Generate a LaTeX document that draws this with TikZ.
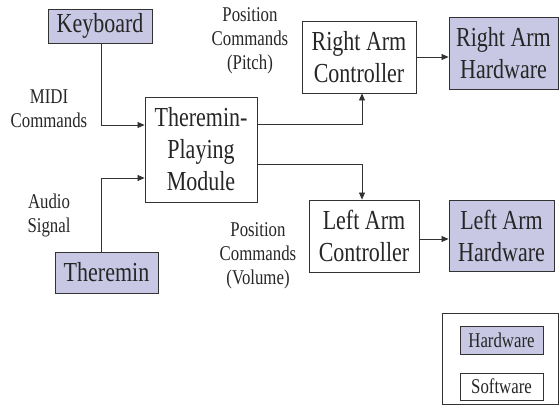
\documentclass[tikz,border=0pt]{standalone}
\usepackage{fontspec}
\setmainfont{Liberation Serif}[FakeStretch=0.8]
\usetikzlibrary{arrows.meta}
\definecolor{hw}{RGB}{200,200,228}
\definecolor{ln}{RGB}{50,50,50}
\begin{document}
\begin{tikzpicture}[x=1pt,y=-1pt,
  box/.style={draw=ln,line width=0.9pt,fill=white,inner sep=0pt,align=center,
    font=\fontsize{27.5}{32}\selectfont,text=black!85},
  hwbox/.style={box,fill=hw},
  lab/.style={align=center,font=\fontsize{21}{24}\selectfont,text=black!85},
  arr/.style={draw=ln,line width=0.8pt,-{Triangle[length=7pt,width=6pt]}}]
\useasboundingbox (0,0) rectangle (559,414);
% boxes
\node[hwbox,minimum width=104pt,minimum height=34pt] (kb) at (100,26) {Keyboard};
\node[box,minimum width=112pt,minimum height=105pt] (mod) at (201,149.5) {Theremin-\\Playing\\Module};
\node[hwbox,minimum width=103pt,minimum height=41pt] (th) at (106.5,272.5) {Theremin};
\node[box,minimum width=114pt,minimum height=72pt] (rac) at (359,57) {Right Arm\\Controller};
\node[hwbox,minimum width=109pt,minimum height=72pt] (rah) at (503.5,53) {Right Arm\\Hardware};
\node[box,minimum width=110pt,minimum height=72pt] (lac) at (364,236) {Left Arm\\Controller};
\node[hwbox,minimum width=105pt,minimum height=71pt] (lah) at (501.5,235.5) {Left Arm\\Hardware};
% legend
\node[draw=ln,line width=0.9pt,minimum width=116pt,minimum height=91pt,inner sep=0pt] (leg) at (500,358.5) {};
\node[hwbox,lab,draw=ln,line width=0.9pt,minimum width=83pt,minimum height=28pt,inner sep=0pt] (lhw) at (501.5,340) {Hardware};
\node[box,lab,draw=ln,line width=0.9pt,minimum width=83pt,minimum height=27pt,inner sep=0pt] (lsw) at (501.5,386.5) {Software};
% labels
\node[lab] (midi) at (49,109) {MIDI\\Commands};
\node[lab] (audio) at (49,215) {Audio\\Signal};
\node[lab] (pitch) at (250,41) {Position\\Commands\\(Pitch)};
\node[lab] (vol) at (258,256) {Position\\Commands\\(Volume)};
% connectors
\draw[arr] ([xshift=1pt]kb.south) |- ([yshift=24.5pt]mod.west);
\draw[arr] ([xshift=-5.5pt]th.north) |- ([yshift=-28.5pt]mod.west);
\draw[arr] ([yshift=25.5pt]mod.east) -| ([xshift=3pt]rac.south);
\draw[arr] ([yshift=-14.5pt]mod.east) -| ([xshift=-2pt]lac.north);
\draw[arr] (rac.east) -- (rac.east -| rah.west);
\draw[arr] ([yshift=-3pt]lac.east) -- ([yshift=-3pt]lac.east -| lah.west);
\end{tikzpicture}
\end{document}
